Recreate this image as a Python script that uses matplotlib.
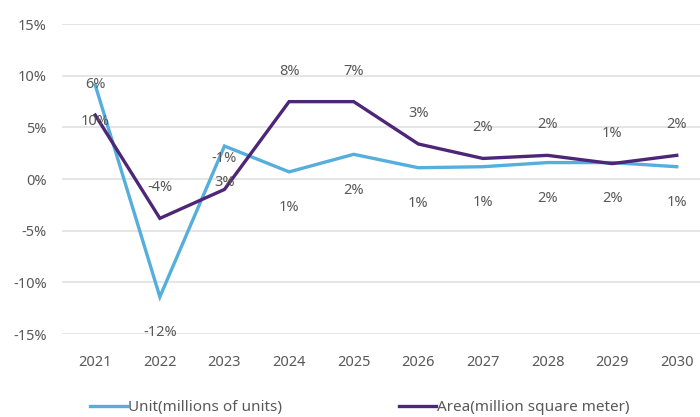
import matplotlib
matplotlib.use("Agg")
import matplotlib.pyplot as plt
from matplotlib.ticker import FuncFormatter

years = [2021, 2022, 2023, 2024, 2025, 2026, 2027, 2028, 2029, 2030]
unit_values = [9.1, -11.4, 3.2, 0.7, 2.4, 1.1, 1.2, 1.6, 1.6, 1.2]
area_values = [6.2, -3.8, -1.0, 7.5, 7.5, 3.4, 2.0, 2.3, 1.5, 2.3]
unit_labels = ['10%', '-12%', '3%', '1%', '2%', '1%', '1%', '2%', '2%', '1%']
area_labels = ['6%', '-4%', '-1%', '8%', '7%', '3%', '2%', '2%', '1%', '2%']
y_ticks = [-15, -10, -5, 0, 5, 10, 15]

unit_color = '#56AEDC'
area_color = '#4E2677'
text_color = '#595959'
grid_color = '#E3E3E3'

plt.rcParams['font.family'] = ['Noto Sans', 'DejaVu Sans']

fig = plt.figure(figsize=(7.0, 4.17), dpi=100)
ax = fig.add_axes([0.089, 0.199, 0.911, 0.743])

ax.plot(years, unit_values, color=unit_color, lw=2.4, label='Unit(millions of units)', solid_joinstyle='miter')
ax.plot(years, area_values, color=area_color, lw=2.4, label='Area(million square meter)', solid_joinstyle='miter')

for x, v, lab in zip(years, unit_values, unit_labels):
    ax.annotate(lab, (x, v), xytext=(0, -26), textcoords='offset points',
                ha='center', va='center', fontsize=10.5, color=text_color)
for x, v, lab in zip(years, area_values, area_labels):
    ax.annotate(lab, (x, v), xytext=(0, 22), textcoords='offset points',
                ha='center', va='center', fontsize=10.5, color=text_color)

ax.set_ylim(-15, 15)
ax.set_xlim(2020.49, 2030.36)
ax.set_yticks(y_ticks)
ax.set_xticks(years)
ax.yaxis.set_major_formatter(FuncFormatter(lambda v, p: f'{int(v)}%'))
ax.grid(axis='y', color=grid_color, lw=1.3)
ax.set_axisbelow(True)
for s in ax.spines.values():
    s.set_visible(False)
ax.tick_params(axis='both', length=0, labelsize=10.5, colors=text_color)
ax.tick_params(axis='y', pad=11)
ax.tick_params(axis='x', pad=15)

fig.legend(loc='center', bbox_to_anchor=(0.514, 0.022), ncol=2, frameon=False,
           fontsize=11, handlelength=2.4, handletextpad=0.05, columnspacing=7.7,
           labelcolor=text_color)

fig.savefig('out.png', dpi=100)
